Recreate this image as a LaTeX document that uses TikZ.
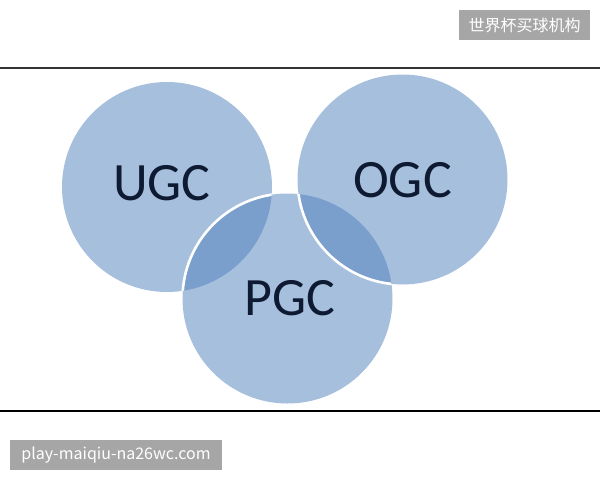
\documentclass[tikz,border=0pt]{standalone}
\usepackage{fontspec}
\setmainfont{Carlito}
\newfontfamily\cjk{Noto Sans CJK SC}
\definecolor{circblue}{RGB}{79,129,189}
\definecolor{txtnavy}{RGB}{14,26,50}
\definecolor{wmgrey}{RGB}{166,166,166}
\begin{document}
\begin{tikzpicture}[x=1pt,y=-1pt,
  bubble/.style={circle, minimum size=210pt, inner sep=0pt, fill=circblue, fill opacity=0.5, draw=none},
  ring/.style={draw=white, line width=2.6pt},
  label/.style={inner sep=0pt, anchor=base, text=txtnavy, font=\fontsize{54}{58}\selectfont},
  wmbox/.style={fill=wmgrey, inner sep=0pt, text=white, font=\cjk\fontsize{16}{18}\selectfont},
  rule/.style={line width=2pt}]
\useasboundingbox (0,0) rectangle (600,480);
\fill[white] (0,0) rectangle (600,480);
% horizontal rules
\coordinate (tl) at (0,67.5);
\coordinate (tr) at (600,67.5);
\coordinate (bl) at (0,410.5);
\coordinate (br) at (600,410.5);
\draw[rule, draw={rgb,255:red,51;green,51;blue,51}] (tl) -- (tr);
\draw[rule, draw=black] (bl) -- (br);
% circles
\node[bubble] (ugc) at (167,187) {};
\node[bubble] (pgc) at (287.5,298.5) {};
\begin{scope}
  \clip (167,187) circle (105);
  \draw[ring] (pgc.center) circle (105);
\end{scope}
\node[bubble] (ogc) at (402.5,179.5) {};
\begin{scope}
  \clip (287.5,298.5) circle (105);
  \draw[ring] (ogc.center) circle (105);
\end{scope}
% labels
\node[label] (tu) at (162,200) {UGC};
\node[label] (tp) at (290,315) {PGC};
\node[label] (to) at (402.5,197) {OGC};
% watermarks
\node[wmbox, minimum width=131pt, minimum height=30pt] (wm1) at (524.5,25) {世界杯买球机构};
\node[wmbox, minimum width=212pt, minimum height=30pt] (wm2) at (116,455) {play-maiqiu-na26wc.com};
\end{tikzpicture}
\end{document}
